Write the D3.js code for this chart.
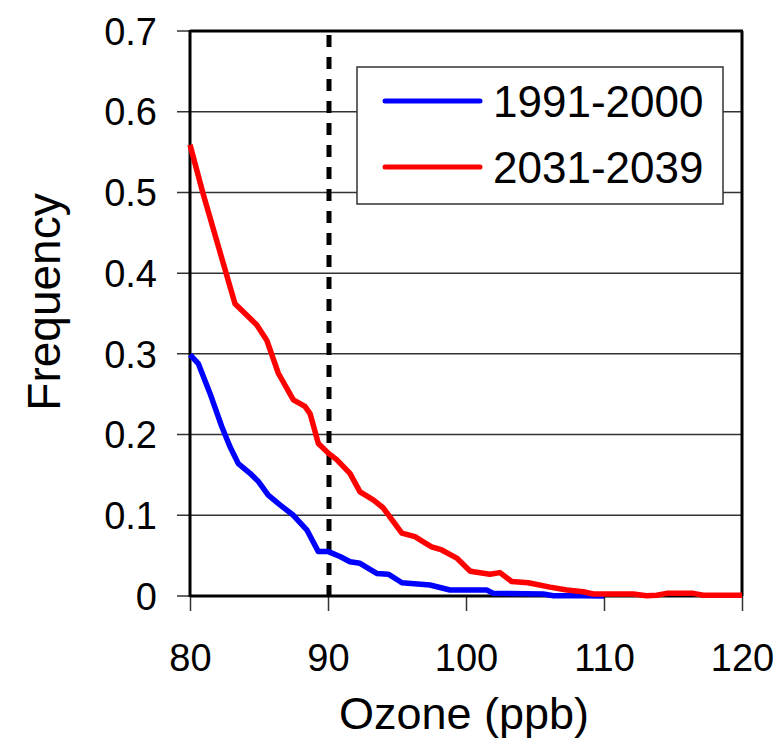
<!DOCTYPE html>
<html>
<head>
<meta charset="utf-8">
<style>
body { margin: 0; background: #fff; }
svg { font-family: "Liberation Sans", Arial, sans-serif; }
.grid line { stroke: #333; stroke-width: 1.5; }
</style>
</head>
<body>
<script src="https://cdn.jsdelivr.net/npm/d3@7"></script>
<script>

// ozone (ppb) and frequency
var ozoneLow = [80, 80.6, 81.45, 82.3, 82.9, 83.5, 84.35, 84.95, 85.67, 86.52, 87.49, 88.46, 89.3, 90.02,
  90.87, 91.59, 92.32, 93.53, 94.37, 95.22, 95.35, 97.39, 98.84, 101.5, 101.98, 105.6, 106.33, 108.5, 110];
var freqLow = [0.299, 0.288, 0.251, 0.21, 0.185, 0.164, 0.152, 0.142, 0.125, 0.113, 0.1, 0.082, 0.055, 0.055,
  0.049, 0.0425, 0.0405, 0.028, 0.027, 0.018, 0.0165, 0.0136, 0.0074, 0.0074, 0.0033, 0.0025, 0.0004, 0.0004, 0];

var ozoneHigh = [80, 80.94, 83.26, 84.83, 85.56, 86.4, 87.49, 88.33, 88.7, 89.3, 90.02, 90.63, 91.59, 92.32,
  93.28, 94.01, 95.35, 96.3, 96.91, 97.51, 98.24, 99.33, 100.29, 100.53, 101.74, 102.46, 103.31, 104.51,
  106.09, 107.3, 108.5, 109.22, 112.12, 113.09, 113.82, 114.54, 116.47, 117.2, 120];
var freqHigh = [0.559, 0.499, 0.362, 0.336, 0.317, 0.276, 0.243, 0.235, 0.226, 0.189, 0.177, 0.169, 0.152, 0.129,
  0.119, 0.109, 0.078, 0.0735, 0.067, 0.061, 0.057, 0.047, 0.031, 0.03, 0.027, 0.029, 0.018, 0.0165,
  0.011, 0.0074, 0.0053, 0.0025, 0.0025, 0.0004, 0.001, 0.0033, 0.0033, 0.001, 0.001];

var seriesNames = ["1991-2000", "2031-2039"];
var seriesColors = ["#0000ff", "#ff0000"];
var xTicks = [80, 90, 100, 110, 120];
var yTicks = [0, 0.1, 0.2, 0.3, 0.4, 0.5, 0.6, 0.7];
var threshold = 90;

var width = 776, height = 746;
var plotLeft = 190, plotRight = 742, plotTop = 31, plotBottom = 596;

var x = d3.scaleLinear().domain([80, 120]).range([plotLeft, plotRight]);
var y = d3.scaleLinear().domain([0, 0.7]).range([plotBottom, plotTop]);

var svg = d3.select("body").append("svg")
    .attr("width", width)
    .attr("height", height);

// horizontal grid lines (also act as the left ticks)
svg.append("g")
    .attr("class", "grid")
    .selectAll("line")
    .data(yTicks)
    .enter().append("line")
    .attr("x1", plotLeft - 13)
    .attr("x2", plotRight)
    .attr("y1", function(d) { return y(d); })
    .attr("y2", function(d) { return y(d); });

// y tick labels
svg.append("g")
    .selectAll("text")
    .data(yTicks)
    .enter().append("text")
    .attr("x", 157)
    .attr("y", function(d) { return y(d); })
    .attr("dy", "0.36em")
    .attr("text-anchor", "end")
    .attr("font-size", 38)
    .text(function(d) { return d === 0 ? "0" : d3.format(".1f")(d); });

// x axis
var xAxis = d3.axisBottom(x)
    .tickValues(xTicks)
    .tickSize(15)
    .tickSizeOuter(0)
    .tickPadding(33)
    .tickFormat(d3.format("d"));

var gx = svg.append("g")
    .attr("transform", "translate(0," + plotBottom + ")")
    .call(xAxis);
gx.select(".domain").remove();
gx.selectAll("line").attr("stroke", "#333").attr("stroke-width", 1.5);
gx.selectAll("text")
    .attr("font-family", "'Liberation Sans', Arial, sans-serif")
    .attr("font-size", 38)
    .attr("fill", "#000");

// frame
svg.append("line").attr("x1", plotLeft).attr("x2", plotLeft).attr("y1", plotTop - 1).attr("y2", plotBottom + 1)
    .attr("stroke", "#000").attr("stroke-width", 3);
svg.append("line").attr("x1", plotLeft).attr("x2", plotRight).attr("y1", plotBottom).attr("y2", plotBottom)
    .attr("stroke", "#000").attr("stroke-width", 3);
svg.append("line").attr("x1", plotLeft).attr("x2", plotRight + 1).attr("y1", plotTop).attr("y2", plotTop)
    .attr("stroke", "#000").attr("stroke-width", 3);
svg.append("line").attr("x1", plotRight).attr("x2", plotRight).attr("y1", plotTop).attr("y2", plotBottom)
    .attr("stroke", "#000").attr("stroke-width", 3);

// 90 ppb threshold
svg.append("line")
    .attr("x1", x(threshold) + 1).attr("x2", x(threshold) + 1)
    .attr("y1", y(0.7) + 4).attr("y2", y(0))
    .attr("stroke", "#000")
    .attr("stroke-width", 5)
    .attr("stroke-dasharray", "12,10");

// curves
var line = d3.line()
    .x(function(d) { return x(d[0]); })
    .y(function(d) { return y(d[1]); });

var series = [d3.zip(ozoneLow, freqLow), d3.zip(ozoneHigh, freqHigh)];

svg.selectAll(".curve")
    .data(series)
    .enter().append("path")
    .attr("class", "curve")
    .attr("d", line)
    .attr("fill", "none")
    .attr("stroke", function(d, i) { return seriesColors[i]; })
    .attr("stroke-width", 5.5)
    .attr("stroke-linejoin", "round");

// legend
var legend = svg.append("g");
legend.append("rect")
    .attr("x", 357).attr("y", 67)
    .attr("width", 366).attr("height", 137)
    .attr("fill", "#fff")
    .attr("stroke", "#333")
    .attr("stroke-width", 1.5);

var item = legend.selectAll(".item")
    .data(seriesNames)
    .enter().append("g")
    .attr("transform", function(d, i) { return "translate(0," + (101 + i * 66) + ")"; });
item.append("line")
    .attr("x1", 385).attr("x2", 480)
    .attr("stroke", function(d, i) { return seriesColors[i]; })
    .attr("stroke-width", 5)
    .attr("stroke-linecap", "round");
item.append("text")
    .attr("x", 493)
    .attr("dy", "0.36em")
    .attr("font-size", 44)
    .text(function(d) { return d; });

// axis titles
svg.append("text")
    .attr("x", (plotLeft + plotRight) / 2 - 2)
    .attr("y", 729)
    .attr("text-anchor", "middle")
    .attr("font-size", 45)
    .text("Ozone (ppb)");

svg.append("text")
    .attr("transform", "translate(60,302) rotate(-90)")
    .attr("text-anchor", "middle")
    .attr("font-size", 46)
    .text("Frequency");

</script>
</body>
</html>
